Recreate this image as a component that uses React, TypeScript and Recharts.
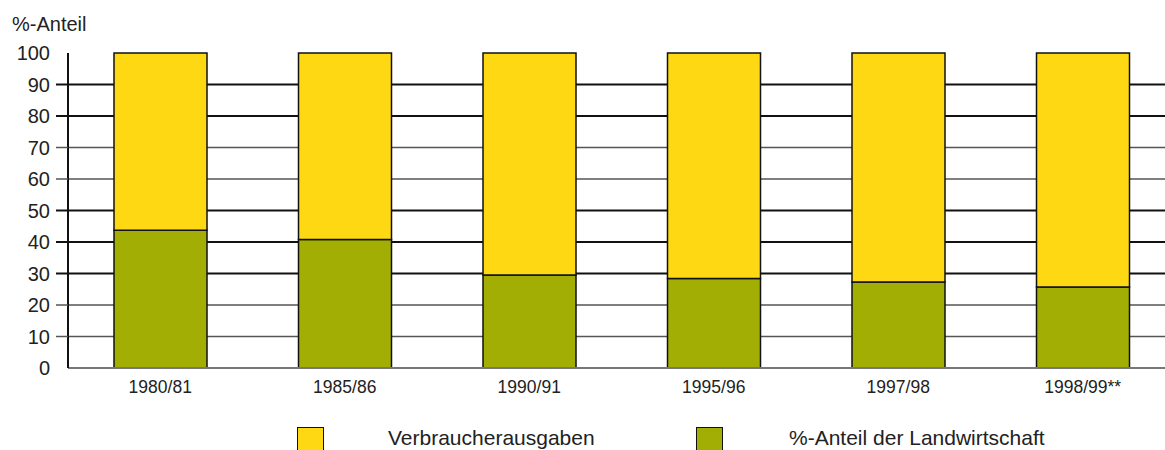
import React from 'react';
import { BarChart, Bar, XAxis, YAxis, CartesianGrid } from 'recharts';

// Wirtschaftsjahre
const years = ['1980/81', '1985/86', '1990/91', '1995/96', '1997/98', '1998/99**'];
// %-Anteil der Landwirtschaft an den Verbraucherausgaben
const landwirtschaft = [43.7, 40.8, 29.5, 28.4, 27.3, 25.7];
// restlicher Anteil der Verbraucherausgaben (gelber Teil)
const verbraucher = [56.3, 59.2, 70.5, 71.6, 72.7, 74.3];
const yTicks = [0, 10, 20, 30, 40, 50, 60, 70, 80, 90, 100];
const darkLines = [30, 40, 50, 80, 90];
const lightLines = [10, 20, 60, 70];

const YELLOW = '#FED813';
const GREEN = '#A2AE03';
const FONT = '"Liberation Sans", Arial, Helvetica, sans-serif';

const legendItems = [
  { label: 'Verbraucherausgaben', color: YELLOW, box: 297, text: 388 },
  { label: '%-Anteil der Landwirtschaft', color: GREEN, box: 696, text: 789 },
];

const data = years.map((year, i) => ({
  year,
  landwirtschaft: landwirtschaft[i],
  verbraucher: verbraucher[i],
}));

const YTick = (props: any) => {
  const { x, y, payload } = props;
  const v = payload.value;
  const dark = darkLines.includes(v);
  const showLine = v > 0 && v < 100;
  return (
    <g>
      {showLine && (
        <line
          x1={x + 6}
          x2={x + 18}
          y1={y}
          y2={y}
          stroke={dark ? '#111' : '#555'}
          strokeWidth={dark ? 2 : 1.5}
        />
      )}
      <text x={x} y={y} dy="0.355em" textAnchor="end" fontSize={20} fill="#222" fontFamily={FONT}>
        {v}
      </text>
    </g>
  );
};

export default function App() {
  return (
    <div
      style={{
        position: 'fixed',
        left: 0,
        top: 0,
        width: 1165,
        height: 450,
        overflow: 'hidden',
        background: '#fff',
        fontFamily: FONT,
      }}
    >
      <div style={{ position: 'absolute', left: 12, top: 14, fontSize: 20, lineHeight: '20px', color: '#222' }}>
        %-Anteil
      </div>

      <BarChart
        width={1175}
        height={450}
        data={data}
        margin={{ top: 53, right: 0, left: 0, bottom: 0 }}
        barSize={93}
      >
        <CartesianGrid
          vertical={false}
          horizontalValues={lightLines}
          stroke="#555"
          strokeWidth={1.5}
        />
        <CartesianGrid
          vertical={false}
          horizontalValues={darkLines}
          stroke="#111"
          strokeWidth={2}
        />
        <XAxis
          dataKey="year"
          height={82}
          tickLine={false}
          tickSize={6}
          tickMargin={7}
          axisLine={{ stroke: '#777', strokeWidth: 2 }}
          tick={{ fontSize: 17.5, fill: '#222', fontFamily: FONT }}
          interval={0}
        />
        <YAxis
          width={68}
          domain={[0, 100]}
          ticks={yTicks}
          tickLine={false}
          tickSize={12}
          tickMargin={6}
          axisLine={{ stroke: '#111', strokeWidth: 2 }}
          tick={<YTick />}
          interval={0}
        />
        <Bar
          dataKey="landwirtschaft"
          stackId="a"
          fill={GREEN}
          stroke="#111"
          strokeWidth={1.5}
          isAnimationActive={false}
        />
        <Bar
          dataKey="verbraucher"
          stackId="a"
          fill={YELLOW}
          stroke="#111"
          strokeWidth={1.5}
          isAnimationActive={false}
        />
      </BarChart>

      {legendItems.map((item) => (
        <React.Fragment key={item.label}>
          <div
            style={{
              position: 'absolute',
              left: item.box,
              top: 427,
              width: 25,
              height: 30,
              background: item.color,
              border: '1.5px solid #111',
            }}
          />
          <div
            style={{
              position: 'absolute',
              left: item.text,
              top: 427,
              fontSize: 21,
              lineHeight: '21px',
              color: '#222',
              whiteSpace: 'nowrap',
            }}
          >
            {item.label}
          </div>
        </React.Fragment>
      ))}
    </div>
  );
}
